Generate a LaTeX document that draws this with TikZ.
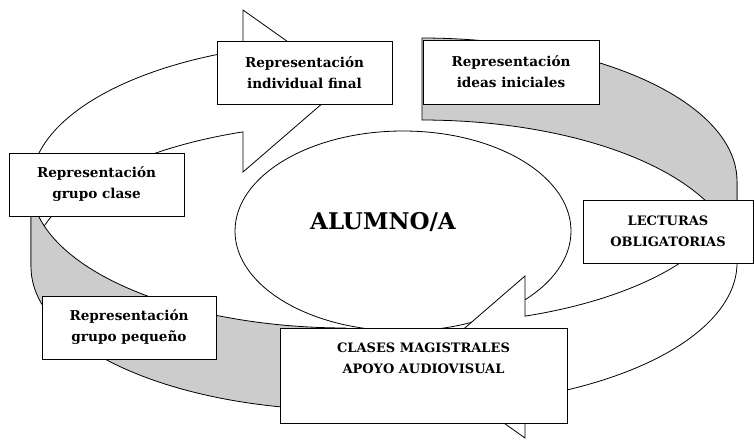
\documentclass[tikz,border=0pt]{standalone}
\usepackage{fontspec}
\setmainfont{DejaVu Serif}
\usetikzlibrary{shapes.geometric}
\definecolor{backgray}{HTML}{CCCCCC}
\tikzset{
  ribbonfront/.style={draw=black, line width=0.8pt, fill=white, line join=miter},
  ribbonback/.style={draw=black, line width=0.8pt, fill=backgray, line join=miter},
  labelbox/.style={draw=black, line width=1pt, fill=white, inner sep=0pt,
    align=center, font=\fontsize{13.6pt}{21pt}\selectfont\bfseries},
  capsbox/.style={labelbox, font=\fontsize{13pt}{21pt}\selectfont\bfseries},
  labeltext/.style={inner sep=0pt, align=center, font=\fontsize{13pt}{21pt}\selectfont\bfseries},
}
\newcommand{\curlarrow}{%
  \draw[ribbonfront]
    plot[domain=180:250.9, samples=50, variable=\t] ({346+315*cos(\t)},{185+143*sin(\t)})
    -- (243,10) -- (346,83) -- (243,172)
    -- plot[domain=250.9:180, samples=50, variable=\t] ({346+315*cos(\t)},{267+143*sin(\t)})
    -- cycle;
  \draw[ribbonback]
    plot[domain=180:90, samples=50, variable=\t] ({346+315*cos(\t)},{185+143*sin(\t)})
    -- plot[domain=90:180, samples=50, variable=\t] ({346+315*cos(\t)},{267+143*sin(\t)})
    -- cycle;
}
\begin{document}
\begin{tikzpicture}[x=1pt,y=-1pt]
\useasboundingbox (0,0) rectangle (754,440);
\fill[white] (0,0) rectangle (754,440);

% central ellipse
\node[ellipse, draw=black, line width=0.8pt, fill=white, inner sep=0pt,
      minimum width=336pt, minimum height=200pt] (alumno) at (403,231) {};

% two curved arrows
\curlarrow
\begin{scope}[rotate around={180:(384,224)}]
  \curlarrow
\end{scope}

% text of the ellipse
\node[inner sep=0pt, font=\fontsize{23pt}{27pt}\selectfont\bfseries] (alumnotxt) at (383,222) {ALUMNO/A};

% boxes
\node[labelbox, minimum width=175pt, minimum height=63pt] (fin) at (304.5,72.5)
  {Representación\\individual final};
\node[labelbox, minimum width=176pt, minimum height=64pt] (ini) at (511,72)
  {Representación\\ideas iniciales};
\node[labelbox, minimum width=175pt, minimum height=63pt] (clase) at (96.5,184.5)
  {Representación\\grupo clase};
\node[labelbox, minimum width=174pt, minimum height=63pt] (peq) at (129,327.5)
  {Representación\\grupo pequeño};
\node[capsbox, minimum width=170pt, minimum height=63pt] (lect) at (668,231.5)
  {LECTURAS\\OBLIGATORIAS};
\node[labelbox, minimum width=287pt, minimum height=95pt] (clases) at (423.5,375.5) {};
\node[labeltext] (clasestxt) at (423.5,358.5) {CLASES MAGISTRALES\\APOYO AUDIOVISUAL};
\end{tikzpicture}
\end{document}
